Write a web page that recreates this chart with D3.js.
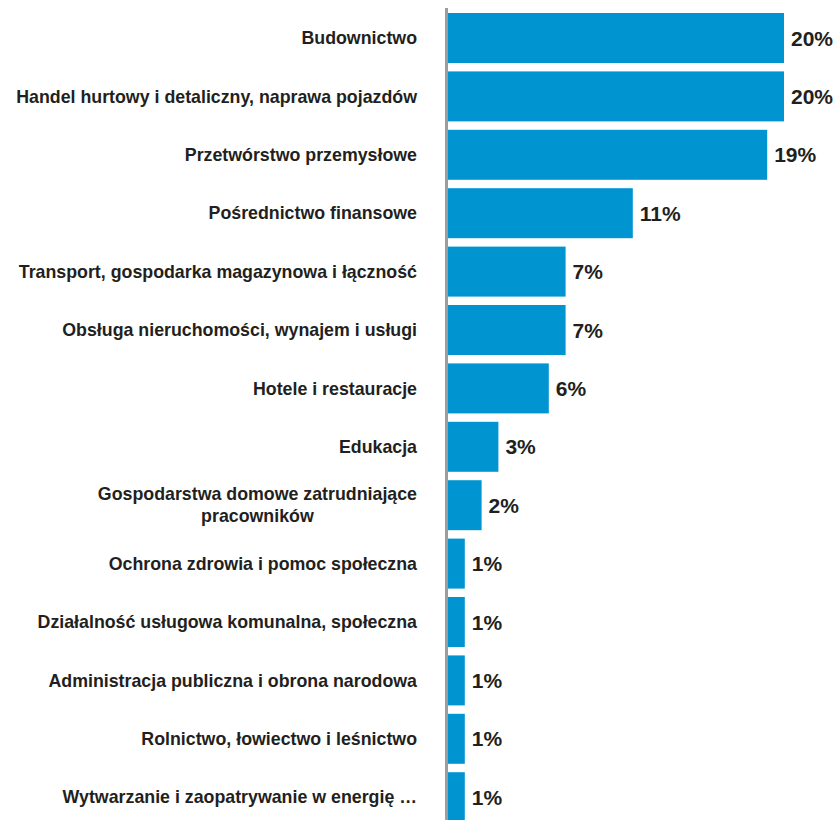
<!DOCTYPE html>
<html>
<head>
<meta charset="utf-8">
<script src="https://cdn.jsdelivr.net/npm/d3@7"></script>
<style>
  html, body { margin: 0; padding: 0; background: #ffffff; }
  svg { display: block; }
</style>
</head>
<body>
<div id="chart"></div>
<script>
// Sectors (each entry may hold several lines of the label)
const categories = [
  ["Budownictwo"],
  ["Handel hurtowy i detaliczny, naprawa pojazdów"],
  ["Przetwórstwo przemysłowe"],
  ["Pośrednictwo finansowe"],
  ["Transport, gospodarka magazynowa i łączność"],
  ["Obsługa nieruchomości, wynajem i usługi"],
  ["Hotele i restauracje"],
  ["Edukacja"],
  ["Gospodarstwa domowe zatrudniające", "pracowników"],
  ["Ochrona zdrowia i pomoc społeczna"],
  ["Działalność usługowa komunalna, społeczna"],
  ["Administracja publiczna i obrona narodowa"],
  ["Rolnictwo, łowiectwo i leśnictwo"],
  ["Wytwarzanie i zaopatrywanie w energię …"]
];
// Share of each sector, in percent
const shares = [20, 20, 19, 11, 7, 7, 6, 3, 2, 1, 1, 1, 1, 1];

const W = 837, H = 820;
const barColor = "#0095d1";
const textColor = "#231f20";
const axisColor = "#9d9d9d";

const svg = d3.select("#chart").append("svg")
  .attr("width", W).attr("height", H);

const rows = categories.map((c, i) => ({ key: i, lines: c, value: shares[i] }));

const y = d3.scaleBand()
  .domain(rows.map(d => d.key))
  .range([8.8, 826.4])
  .paddingInner(0.144)
  .paddingOuter(0.072);

const x = d3.scaleLinear()
  .domain([0, 20])
  .range([448, 784]);

// Bars
svg.append("g").selectAll("rect")
  .data(rows)
  .join("rect")
  .attr("x", x(0))
  .attr("y", d => y(d.key))
  .attr("width", d => x(d.value) - x(0))
  .attr("height", y.bandwidth())
  .attr("fill", barColor);

// Baseline of the bars
svg.append("line")
  .attr("x1", x(0) - 1.5).attr("x2", x(0) - 1.5)
  .attr("y1", 8).attr("y2", H)
  .attr("stroke", axisColor)
  .attr("stroke-width", 3);

// Value labels
svg.append("g").selectAll("text")
  .data(rows)
  .join("text")
  .attr("x", d => x(d.value) + 7)
  .attr("y", d => y(d.key) + y.bandwidth() / 2)
  .attr("dy", "0.36em")
  .attr("font-family", "Liberation Sans, Arial, sans-serif")
  .attr("font-weight", "bold")
  .attr("font-size", 21)
  .attr("fill", textColor)
  .text(d => d.value + "%");

// Category labels, right-aligned next to the baseline
const labelRight = 417;
const lineGap = 22;
const lab = svg.append("g").selectAll("g")
  .data(rows)
  .join("g")
  .attr("transform", d => `translate(0,${y(d.key) + y.bandwidth() / 2})`);

lab.each(function(d) {
  const g = d3.select(this);
  const n = d.lines.length;
  const t = g.append("text")
    .attr("font-family", "Liberation Sans, Arial, sans-serif")
    .attr("font-weight", "bold")
    .attr("font-size", 17.8)
    .attr("fill", textColor);
  d.lines.forEach((line, i) => {
    t.append("tspan")
      .attr("y", (i - (n - 1) / 2) * lineGap)
      .attr("dy", "0.35em")
      .text(line);
  });
  if (n === 1) {
    t.attr("text-anchor", "end").selectAll("tspan").attr("x", labelRight);
  } else {
    // wrapped label: lines centred on the first line
    const first = t.select("tspan").node().getComputedTextLength();
    t.attr("text-anchor", "middle").selectAll("tspan").attr("x", labelRight - first / 2);
  }
});
</script>
</body>
</html>
